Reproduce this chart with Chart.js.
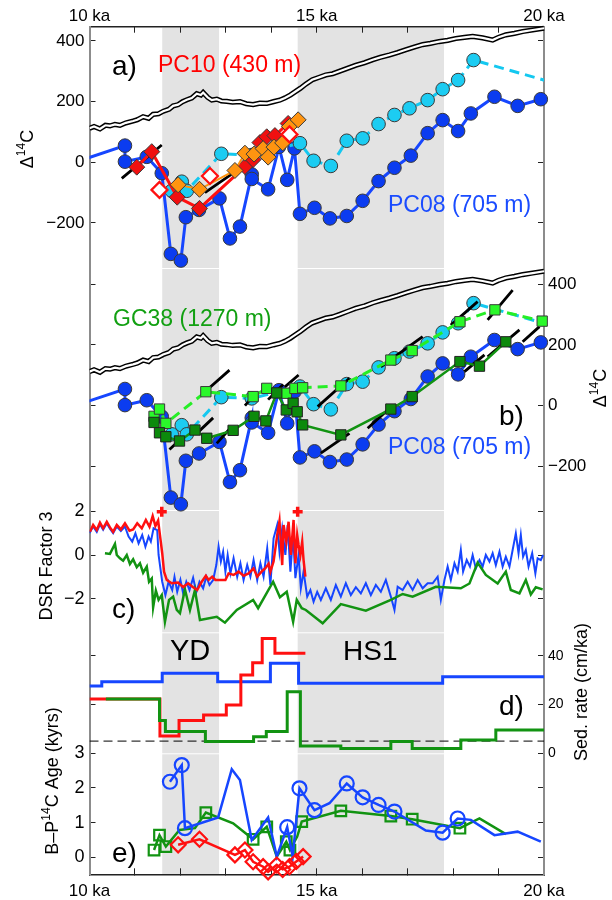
<!DOCTYPE html>
<html>
<head>
<meta charset="utf-8">
<script src="https://cdn.jsdelivr.net/npm/chart.js"></script>
<style>
  html, body { margin: 0; padding: 0; background: #fff; }
  #wrap { position: relative; width: 612px; height: 900px; }
</style>
</head>
<body>
<div id="wrap"><canvas id="fig" width="612" height="900"></canvas></div>
<script>
// ---- x axis (ka) ----
const kaTicks = [10, 11, 12, 13, 14, 15, 16, 17, 18, 19, 20];
const kaLabelled = [10, 15, 20];
const bandsKa = [[11.6, 12.85], [14.58, 17.8]];   // YD, HS1

// ---- panels a/b : atmospheric D14C ----
const atmAge = [10.0,10.1,10.23,10.35,10.45,10.56,10.67,10.8,10.96,11.05,11.18,11.3,11.4,11.52,11.62,11.75,11.84,11.95,12.05,12.14,12.25,12.36,12.45,12.5,12.6,12.69,12.8,12.9,13.02,13.15,13.31,13.45,13.6,13.75,13.9,14.05,14.19,14.3,14.42,14.55,14.64,14.76,14.9,15.05,15.2,15.35,15.5,15.68,15.86,16.05,16.23,16.4,16.6,16.78,16.96,17.15,17.33,17.5,17.69,17.88,18.06,18.25,18.43,18.65,18.87,19.0,19.16,19.35,19.53,19.75,20.0];
const atmD14C = [112,118,110,122,120,125,122,130,136,140,150,145,158,160,168,175,186,190,200,206,212,226,222,230,214,205,208,202,201,198,200,193,190,195,194,200,205,212,222,235,244,258,272,280,288,292,300,310,320,328,338,346,354,362,371,380,388,392,398,402,408,412,415,410,403,412,420,425,431,436,442];

// PC08 (705 m)
const pc08Age = [9.7,10.78,10.78,11.26,11.59,11.79,12.01,12.12,12.41,12.86,13.09,13.31,13.57,13.57,13.93,14.17,14.35,14.51,14.63,14.95,15.29,15.66,16.01,16.36,16.71,17.07,17.44,17.77,18.11,18.39,18.91,19.42,19.93];
const pc08D14C = [1,55,2,18,-36,-302,-324,-181,-157,-119,-251,-212,-40,-55,-89,51,-58,46,-170,-150,-185,-177,-127,-62,-18,22,96,139,103,161,216,186,208];
// PC08 alternative (light blue, dashed)
const pc08bAge = [11.81,12.03,12.14,12.9,13.57,14.63,14.93,15.31,15.66,16.01,16.36,16.71,17.04,17.44,17.77,18.11,18.45,20.4];
const pc08bD14C = [-94,-64,-94,28,24,63,5,-12,71,79,126,156,178,205,241,271,337,254];

// PC10 (430 m)
const pc10Age = [11.04,11.37,11.93,12.42,13.42,13.6,13.75,13.9,14.08,14.37];
const pc10D14C = [-16,35,-115,-152,-14,9,65,84,88,128];
const pc10OpenAge = [11.54,12.65,14.4];
const pc10OpenD14C = [-91,-45,92];
const pc10bAge = [11.95,12.42,13.2,13.42,13.62,13.82,13.93,14.06,14.25,14.4,14.59];
const pc10bD14C = [-74,-89,-27,30,27,45,17,50,64,118,140];

// black projection segments [age1, d1, age2, d2]
const segA = [[10.71,-53,11.59,57],[12.54,-100,13.16,-36]];
const segB = [[11.76,-144,12.06,-102],[12.36,-91,12.72,-40],[12.8,-124,13.12,-70],[12.54,46,13.08,117],
  [13.42,0,13.62,35],[13.93,20,14.26,70],[14.3,62,14.6,101],[15.02,-3,15.72,90],[15.09,-156,15.72,-91],
  [16.12,-74,16.56,-14],[16.41,128,17.33,227],[17.95,265,18.54,342],[18.25,112,18.69,167],
  [18.76,282,19.31,380],[18.76,161,19.46,249],[19.53,210,19.9,260]];

// GC38 (1270 m)
const gc38Age = [11.42,11.54,11.68,11.98,12.32,12.58,13.16,13.62,13.88,14.12,14.33,14.48,14.57,14.69,15.53,16.63,17.1,18.15,18.58,19.16];
const gc38D14C = [-55,-89,-102,-116,-80,-107,-81,-35,-50,42,-14,8,-20,-63,-96,-11,30,145,130,210];
const gc38bAge = [11.42,11.54,11.68,12.56,13.6,13.9,14.33,14.52,14.69,15.53,16.63,17.1,18.15,18.92,19.96];
const gc38bD14C = [-35,-11,-58,46,30,57,41,57,59,65,150,181,276,315,278];

// ---- panel c : DSR factor 3 ----
const dsrPc08Age = [10.0,10.08,10.16,10.23,10.3,10.38,10.45,10.52,10.6,10.69,10.78,10.86,10.94,11.01,11.08,11.16,11.23,11.3,11.35,11.41,11.49,11.52,11.6,11.67,11.74,11.82,11.87,11.93,12.0,12.06,12.13,12.2,12.28,12.35,12.42,12.5,12.57,12.64,12.72,12.79,12.84,12.89,12.94,12.99,13.04,13.1,13.17,13.25,13.32,13.39,13.47,13.54,13.61,13.69,13.76,13.83,13.91,13.98,14.05,14.13,14.18,14.24,14.31,14.36,14.42,14.48,14.53,14.6,14.65,14.71,14.79,14.86,14.93,15.01,15.09,15.2,15.31,15.42,15.53,15.64,15.75,15.86,15.97,16.08,16.19,16.3,16.41,16.52,16.63,16.71,16.78,16.89,17.0,17.11,17.22,17.33,17.44,17.55,17.66,17.73,17.81,17.88,17.95,18.03,18.1,18.17,18.22,18.3,18.37,18.43,18.5,18.58,18.65,18.72,18.8,18.87,18.94,19.02,19.09,19.16,19.24,19.31,19.38,19.44,19.49,19.54,19.6,19.66,19.74,19.81,19.86,19.93,19.98];
const dsrPc08 = [1.0,1.3,1.05,1.4,1.15,1.45,1.2,1.0,1.3,1.1,1.3,0.84,0.61,0.99,0.53,0.91,0.38,0.84,0.61,1.22,1.14,0.0,-1.22,-1.83,-1.22,-1.6,-1.0,-1.68,-1.14,-1.75,-1.22,-1.6,-1.04,-1.7,-1.22,-1.52,-0.99,-1.37,-1.14,-0.46,0.38,-0.3,0.15,-0.76,0.0,-0.84,-0.15,-0.99,-0.38,-1.14,-0.46,-0.99,-0.23,-1.14,-0.38,-0.99,0.3,-1.37,0.76,1.37,0.15,1.22,0.0,1.37,-0.76,0.91,-1.06,0.0,-1.52,-0.76,-1.9,-1.6,-2.13,-1.68,-2.05,-1.52,-2.05,-1.37,-1.9,-1.29,-1.83,-1.47,-1.75,-1.29,-1.83,-1.37,-1.68,-1.14,-1.9,-2.51,-1.45,-1.6,-1.22,-1.6,-1.14,-1.52,-1.29,-1.29,-0.99,-2.05,-1.14,-0.53,-1.14,-0.38,-0.76,0.23,-0.76,-0.23,-0.53,0.0,-0.61,-0.23,-0.53,0.0,-0.3,0.08,-0.46,0.15,-0.53,-0.08,-0.53,0.23,0.99,0.08,0.91,-0.08,0.23,-0.53,0.08,-0.84,-0.15,-0.23,0.0];
const dsrPc10Age = [10.01,10.08,10.16,10.23,10.3,10.38,10.45,10.52,10.6,10.69,10.78,10.88,10.96,11.05,11.15,11.24,11.32,11.39,11.45,11.51,11.55,11.6,11.64,11.7,11.81,11.95,12.06,12.17,12.28,12.37,12.47,12.56,12.62,12.7,12.77,12.88,12.99,13.06,13.17,13.28,13.39,13.5,13.61,13.69,13.8,13.87,13.94,13.98,14.05,14.13,14.18,14.24,14.27,14.33,14.38,14.43,14.49,14.53,14.57,14.6,14.64,14.68,14.71,14.75];
const dsrPc10 = [1.06,1.37,1.14,1.48,1.22,1.52,1.26,1.06,1.37,1.17,1.45,1.11,1.17,1.45,1.22,1.6,1.29,1.78,1.32,1.57,0.91,0.08,-0.76,-1.14,-1.29,-1.26,-1.47,-1.29,-1.47,-1.6,-1.22,-0.95,-1.14,-0.99,-1.14,-1.14,-1.14,-0.84,-0.91,-0.76,-0.95,-0.84,-0.61,-0.99,-0.73,-0.6,-0.4,-0.76,-0.3,0.91,1.55,-0.46,1.37,0.61,1.52,0.0,1.6,-0.38,0.91,0.46,0.0,0.61,-0.23,-0.99];
const dsrGc38Age = [10.34,10.45,10.56,10.6,10.67,10.74,10.82,10.89,10.96,11.04,11.11,11.18,11.26,11.31,11.37,11.4,11.46,11.52,11.59,11.66,11.75,11.84,11.92,11.99,12.1,12.21,12.32,12.43,12.8,12.98,13.24,13.6,13.71,14.04,14.19,14.34,14.48,14.56,14.67,14.76,15.13,15.53,16.08,16.63,16.89,17.11,17.62,18.17,18.36,18.54,18.72,18.98,19.16,19.27,19.46,19.6,19.71,19.82,19.97];
const dsrGc38 = [0.08,0.05,0.5,0.0,-0.15,-0.26,0.0,-0.41,-0.2,-0.56,-0.38,-0.81,-0.53,-1.22,-1.07,-2.39,-1.63,-2.05,-1.83,-3.05,-2.05,-1.9,-2.51,-2.66,-1.57,-2.51,-1.6,-2.97,-2.82,-3.09,-2.51,-2.05,-2.43,-1.22,-1.93,-1.68,-3.05,-2.05,-2.43,-2.51,-3.12,-2.24,-2.54,-2.05,-1.78,-1.9,-1.45,-1.52,-1.3,-0.35,-0.91,-1.3,-0.76,-1.6,-1.75,-1.14,-1.8,-1.47,-1.57];
const tieAge = [11.59, 14.58];
const tieVal = [1.98, 1.98];

// ---- panel d : sedimentation rate (cm/ka), step start ages ----
const sedPc08Age = [10.0,10.27,11.6,12.82,13.98,14.6,17.77,20.0];
const sedPc08 = [27.6,29.3,32.8,29.3,36.9,28.7,31.4,31.4];
const sedPc10Age = [10.0,11.55,11.97,12.51,13.01,13.33,13.59,13.8,14.08,14.75];
const sedPc10 = [22.3,7.1,13.4,15.7,19.8,32.1,37.1,47.1,41.0,41.0];
const sedGc38Age = [10.36,11.54,11.67,12.55,13.61,13.89,14.35,14.64,15.53,16.63,17.1,18.17,18.94,20.0];
const sedGc38 = [22.3,13.4,8.9,4.8,6.8,8.9,25.2,3.0,2.0,4.8,2.0,5.5,9.5,9.5];
const sedRef = 5;

// ---- panel e : B-P 14C age (kyrs) ----
const bpPc08Age = [11.77,12.03,12.1,12.83,13.13,13.31,13.57,13.93,14.12,14.35,14.47,14.62,14.95,15.28,15.66,16.01,16.36,16.71,17.4,17.77,18.1,18.39,18.91,19.42,19.93];
const bpPc08 = [2.18,2.66,0.84,1.15,2.54,2.23,0.5,1.15,0.02,0.87,0.02,1.99,1.36,1.56,2.13,1.73,1.51,1.32,0.77,0.71,1.12,1.08,0.64,0.74,0.45];
const bpPc08MarkAge = [11.77,12.03,12.1,14.35,14.62,14.95,15.66,16.01,16.36,16.71,17.77,18.1];
const bpPc08Mark = [2.18,2.66,0.84,0.87,1.99,1.36,2.13,1.73,1.51,1.32,0.71,1.12];
const bpGc38Age = [11.42,11.54,11.68,11.98,12.32,12.56,13.16,13.6,13.9,14.12,14.33,14.41,14.57,14.67,15.53,16.63,17.1,18.15,18.58,19.16];
const bpGc38 = [0.21,0.64,0.31,0.79,0.84,1.29,0.98,0.52,0.88,0.02,0.45,0.21,0.6,1.03,1.34,1.19,1.1,0.84,1.12,0.67];
const bpGc38MarkAge = [11.42,11.54,11.68,12.56,13.6,13.9,14.33,14.41,14.67,15.53,16.63,17.1,18.15];
const bpGc38Mark = [0.21,0.64,0.31,1.29,0.52,0.88,0.45,0.21,1.03,1.34,1.19,1.1,0.84];
const bpPc10Age = [11.95,12.42,13.2,13.42,13.6,13.82,13.93,14.12,14.25,14.4,14.55,14.7];
const bpPc10 = [0.36,0.52,0.07,0.21,-0.13,-0.27,-0.42,-0.22,-0.35,-0.27,-0.12,0.02];

// ---------------------------------------------------------------
const FONT = "'Liberation Sans', Arial, sans-serif";
const BLUE = '#1646ff', CYAN = '#14c8f0', RED = '#ff1010', ORANGE = '#ff9410';
const LGREEN = '#26ee26', DGREEN = '#129312';

const pts = (xs, ys) => xs.map((x, i) => ({x: x, y: ys[i]}));
const segPts = segs => segs.flatMap(s => [{x: s[0], y: s[1]}, {x: s[2], y: s[3]}, {x: s[2], y: null}]);
const fmt = v => v < 0 ? '\u2212' + Math.abs(v) : String(v);

function ds(data, axis, o) {
  return Object.assign({
    data: data, yAxisID: axis, xAxisID: 'x', pointRadius: 0, borderWidth: 2.5,
    fill: false, tension: 0, clip: {left: 0, right: 8, top: false, bottom: false}
  }, o);
}
const dot = (bg, r) => ({pointRadius: r || 6.8, pointStyle: 'circle', pointBackgroundColor: bg, pointBorderColor: '#3a3a3a', pointBorderWidth: 1});

const datasets = [];
['ya', 'yb'].forEach(ax => {
  datasets.push(ds(pts(atmAge, atmD14C), ax, {borderColor: '#000', borderWidth: 5.2}));
  datasets.push(ds(pts(atmAge, atmD14C), ax, {borderColor: '#fff', borderWidth: 2.2}));
  datasets.push(ds(pts(pc08Age, pc08D14C), ax, Object.assign({borderColor: BLUE, borderWidth: 3}, dot('#0b3cf0'))));
  datasets.push(ds(pts(pc08bAge, pc08bD14C), ax, Object.assign({borderColor: CYAN, borderWidth: 3, borderDash: [10, 6],
    clip: {left: 0, right: 0, top: false, bottom: false}}, dot('#1cccf2'))));
});
datasets.push(ds(segPts(segA), 'ya', {borderColor: '#000', borderWidth: 2.8}));
datasets.push(ds(pts(pc10Age, pc10D14C), 'ya', {borderColor: RED, borderWidth: 3, pointRadius: 8, pointStyle: 'rectRot',
  pointBackgroundColor: '#f01010', pointBorderColor: '#3a3a3a', pointBorderWidth: 1}));
datasets.push(ds(pts(pc10bAge, pc10bD14C), 'ya', {borderColor: ORANGE, borderWidth: 2, pointRadius: 8, pointStyle: 'rectRot',
  pointBackgroundColor: ORANGE, pointBorderColor: '#3a3a3a', pointBorderWidth: 1}));
datasets.push(ds(pts(pc10OpenAge, pc10OpenD14C), 'ya', {showLine: false, pointRadius: 8, pointStyle: 'rectRot',
  pointBackgroundColor: '#fff', pointBorderColor: RED, pointBorderWidth: 2.2}));

datasets.push(ds(segPts(segB), 'yb', {borderColor: '#000', borderWidth: 2.8}));
datasets.push(ds(pts(gc38bAge, gc38bD14C), 'yb', {borderColor: LGREEN, borderWidth: 3, borderDash: [10, 6], pointRadius: 7.3,
  pointStyle: 'rect', pointBackgroundColor: '#2af82a', pointBorderColor: '#3a3a3a', pointBorderWidth: 1}));
datasets.push(ds(pts(gc38Age, gc38D14C), 'yb', {borderColor: DGREEN, borderWidth: 2.5, pointRadius: 7.3,
  pointStyle: 'rect', pointBackgroundColor: '#0c8a0c', pointBorderColor: '#222', pointBorderWidth: 1}));

datasets.push(ds(pts(dsrPc08Age, dsrPc08), 'yc', {borderColor: BLUE, borderWidth: 2}));
datasets.push(ds(pts(dsrGc38Age, dsrGc38), 'yc', {borderColor: DGREEN, borderWidth: 2.5}));
datasets.push(ds(pts(dsrPc10Age, dsrPc10), 'yc', {borderColor: RED, borderWidth: 2.5}));
datasets.push(ds(pts(tieAge, tieVal), 'yc', {showLine: false, pointRadius: 5, pointStyle: 'cross',
  pointBorderColor: RED, pointBorderWidth: 3.5}));

datasets.push(ds([{x: 10, y: sedRef}, {x: 20, y: sedRef}], 'yd', {borderColor: '#000', borderWidth: 1, borderDash: [9, 5]}));
datasets.push(ds(pts(sedPc08Age, sedPc08), 'yd', {borderColor: BLUE, borderWidth: 3, stepped: 'before'}));
datasets.push(ds(pts(sedPc10Age, sedPc10), 'yd', {borderColor: RED, borderWidth: 3, stepped: 'before'}));
datasets.push(ds(pts(sedGc38Age, sedGc38), 'yd', {borderColor: DGREEN, borderWidth: 3, stepped: 'before'}));

datasets.push(ds(pts(bpGc38Age, bpGc38), 'ye', {borderColor: DGREEN, borderWidth: 2.5}));
datasets.push(ds(pts(bpGc38MarkAge, bpGc38Mark), 'ye', {showLine: false, pointRadius: 7.5, pointStyle: 'rect',
  pointBackgroundColor: 'rgba(0,0,0,0)', pointBorderColor: DGREEN, pointBorderWidth: 2.2}));
datasets.push(ds(pts(bpPc08Age, bpPc08), 'ye', {borderColor: BLUE, borderWidth: 2.5}));
datasets.push(ds(pts(bpPc08MarkAge, bpPc08Mark), 'ye', {showLine: false, pointRadius: 7, pointStyle: 'circle',
  pointBackgroundColor: 'rgba(0,0,0,0)', pointBorderColor: BLUE, pointBorderWidth: 2.2}));
datasets.push(ds(pts(bpPc10Age, bpPc10), 'ye', {borderColor: RED, borderWidth: 2.5, pointRadius: 7.5, pointStyle: 'rectRot',
  pointBackgroundColor: 'rgba(0,0,0,0)', pointBorderColor: RED, pointBorderWidth: 2.2}));

// first in list is drawn first (at the back)
datasets.forEach((d, i) => { d.order = datasets.length - i; });

// ---- axes ----
function yAxis(pos, min, max, ticks, labels, weight, stackWeight, size) {
  return {
    type: 'linear', axis: 'y', position: pos, min: min, max: max,
    stack: pos === 'left' ? 'L' : 'R', stackWeight: stackWeight, weight: weight,
    afterBuildTicks: s => { s.ticks = ticks.map(v => ({value: v})); },
    afterFit: s => { s.width = pos === 'left' ? 89.5 : 68; },
    grid: {drawOnChartArea: false, tickLength: -6, tickColor: '#222', tickWidth: 1},
    border: {color: '#8c8c8c', width: 2},
    ticks: {autoSkip: false, padding: pos === 'left' ? 11 : 10, color: '#000',
      font: {family: FONT, size: size}, callback: v => labels ? fmt(v) : ''}
  };
}
function xAxis(pos, h, pad) {
  return {
    type: 'linear', position: pos, min: 10, max: 20,
    afterBuildTicks: s => { s.ticks = kaTicks.map(v => ({value: v})); },
    afterFit: s => { s.height = h; },
    grid: {drawOnChartArea: false, tickLength: -6, tickColor: '#222', tickWidth: 1},
    border: {color: '#222', width: 1.5},
    ticks: {autoSkip: false, maxRotation: 0, padding: pad, color: '#000', font: {family: FONT, size: 17},
      callback: v => kaLabelled.includes(v) ? v + ' ka' : ''}
  };
}

const d14 = [400, 200, 0, -200];
const scales = {
  x: xAxis('bottom', 25.7, 13),
  x2: xAxis('top', 26.7, 6),
  ya: yAxis('left', -348.5, 447, d14, true, 5, 241.3, 17),
  yb: yAxis('left', -342.8, 452.6, d14, false, 4, 242, 17),
  yc: yAxis('left', -3.53, 2.055, [2, 0, -2], true, 3, 122.3, 18),
  yd: yAxis('left', 0, 49.6, [40, 20], false, 2, 121, 14),
  ye: yAxis('left', -0.49, 3.0, [3, 2, 1, 0], true, 1, 121, 18),
  y2a: yAxis('right', -348.5, 447, d14, false, 1, 241.3, 17),
  y2b: yAxis('right', -342.8, 452.6, d14, true, 2, 242, 17),
  y2c: yAxis('right', -3.53, 2.055, [2, 0, -2], false, 3, 122.3, 18),
  y2d: yAxis('right', 0, 49.6, [40, 20, 0], true, 4, 121, 14),
  y2e: yAxis('right', -0.49, 3.0, [2, 1, 0], false, 5, 121, 18)
};

// ---- annotations ----
const notes = [
  {t: 'a)', x: 112, y: 75, size: 28, color: '#000'},
  {t: 'PC10 (430 m)', x: 158, y: 72, size: 23, color: '#ff0000'},
  {t: 'PC08 (705 m)', x: 388, y: 212, size: 23, color: '#1a4cff'},
  {t: 'GC38 (1270 m)', x: 113, y: 326, size: 23, color: '#12a012'},
  {t: 'b)', x: 499, y: 425, size: 28, color: '#000'},
  {t: 'PC08 (705 m)', x: 388, y: 454, size: 23, color: '#1a4cff'},
  {t: 'c)', x: 112, y: 618, size: 28, color: '#000'},
  {t: 'YD', x: 170, y: 660, size: 29, color: '#000'},
  {t: 'HS1', x: 343, y: 660, size: 28, color: '#000'},
  {t: 'd)', x: 499, y: 715, size: 28, color: '#000'},
  {t: 'e)', x: 112, y: 862, size: 28, color: '#000'}
];
const titles = [
  {parts: [['\u0394', 0], ['14', 1], ['C', 0]], x: 28, y: 149},
  {parts: [['DSR Factor 3', 0]], x: 47, y: 566},
  {parts: [['B\u2013P', 0], ['14', 1], ['C Age (kyrs)', 0]], x: 53, y: 781},
  {parts: [['\u0394', 0], ['14', 1], ['C', 0]], x: 601, y: 388},
  {parts: [['Sed. rate (cm/ka)', 0]], x: 582, y: 692}
];

const bandPlugin = {
  id: 'bands',
  beforeDraw(chart) {
    const {ctx, scales: s} = chart;
    ctx.save();
    ctx.fillStyle = '#e3e3e3';
    ['ya', 'yb', 'yc', 'yd', 'ye'].forEach(id => {
      const ax = s[id];
      bandsKa.forEach(b => {
        const x1 = s.x.getPixelForValue(b[0]), x2 = s.x.getPixelForValue(b[1]);
        ctx.fillRect(x1, ax.top + 1, x2 - x1, ax.bottom - ax.top - 1);
      });
    });
    ctx.restore();
  }
};

const textPlugin = {
  id: 'texts',
  afterDatasetsDraw(chart) {
    const ctx = chart.ctx;
    ctx.save();
    ctx.textAlign = 'left';
    ctx.textBaseline = 'alphabetic';
    notes.forEach(n => {
      ctx.font = n.size + 'px ' + FONT;
      ctx.fillStyle = n.color;
      ctx.fillText(n.t, n.x, n.y);
    });
    const size = 18;
    titles.forEach(tt => {
      ctx.save();
      ctx.translate(tt.x, tt.y);
      ctx.rotate(-Math.PI / 2);
      ctx.fillStyle = '#000';
      ctx.textBaseline = 'middle';
      const fonts = tt.parts.map(p => (p[1] ? 12 : size) + 'px ' + FONT);
      let w = 0;
      tt.parts.forEach((p, i) => { ctx.font = fonts[i]; w += ctx.measureText(p[0]).width; });
      let px = -w / 2;
      tt.parts.forEach((p, i) => {
        ctx.font = fonts[i];
        ctx.fillText(p[0], px, p[1] ? -6 : 0);
        px += ctx.measureText(p[0]).width;
      });
      ctx.restore();
    });
    ctx.restore();
  }
};

new Chart(document.getElementById('fig').getContext('2d'), {
  type: 'line',
  data: {datasets: datasets},
  options: {
    responsive: false,
    animation: false,
    events: [],
    layout: {padding: 0},
    plugins: {legend: {display: false}, tooltip: {enabled: false}},
    scales: scales
  },
  plugins: [bandPlugin, textPlugin]
});
</script>
</body>
</html>
